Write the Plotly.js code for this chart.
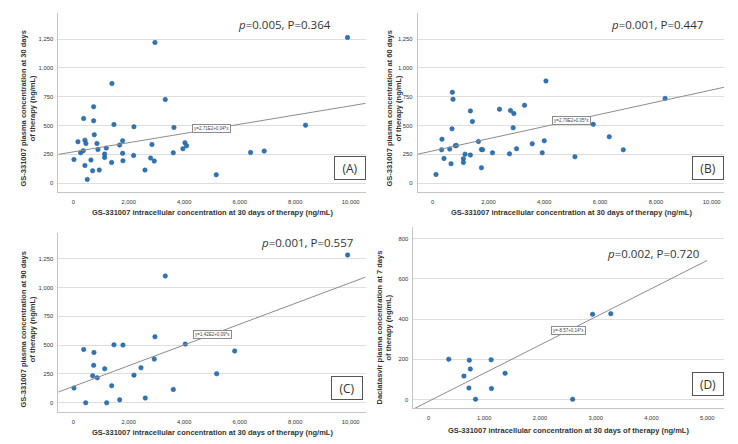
<!DOCTYPE html>
<html><head><meta charset="utf-8">
<script src="https://cdn.plot.ly/plotly-3.0.1.min.js"></script>
<style>html,body{margin:0;padding:0;background:#fff}#c{width:738px;height:444px}</style>
</head><body><div id="c"></div>
<script>
// ---- data ----
const xA = [24,168,264,373,360,420,456,420,505,637,697,733,733,757,853,889,937,1129,1129,1189,1393,1381,1465,1670,1778,1778,1790,2186,2174,2583,2787,2835,2919,2943,3315,3604,3628,3952,4024,4084,5153,6390,6883,8372,9885];
const yA = [205,359,263,561,281,373,344,153,32,200,107,663,541,420,344,292,113,252,223,304,865,179,509,330,367,258,194,489,240,113,217,336,191,1221,726,263,483,298,350,324,72,266,278,503,1265];
const xB = [120,335,323,407,611,659,707,731,695,814,850,1102,1102,1162,1353,1425,1353,1641,1749,1790,1749,2144,2395,2754,2790,2910,2886,3006,3293,3569,3928,4000,4060,5755,8329,6329,6832,5098];
const yB = [75,381,289,214,295,168,789,728,471,324,327,211,179,251,627,535,243,361,292,290,133,263,642,254,630,604,480,298,676,341,263,367,887,510,735,402,289,228];
const xC = [3316,375,746,1467,1791,2944,4037,735,1132,2919,2440,699,865,2188,25,1384,3604,447,1204,1672,2595,9889,5817,5168];
const yC = [1100,463,437,503,501,573,509,325,295,379,304,234,217,240,128,148,116,0,0,26,41,1282,449,252];
const xD = [362,731,1123,749,635,1373,724,1129,843,2585,2943,3270];
const yD = [201,196,198,152,117,131,58,55,2,2,424,427];

const panelLabels = ['(A)','(B)','(C)','(D)'];
const statTexts = ['<i>p</i>=0.005, P=0.364','<i>p</i>=0.001, P=0.447','<i>p</i>=0.001, P=0.557','<i>p</i>=0.002, P=0.720'];
const fitLabels = ['y=2,71E2+0,04*x','y=2,79E2+0,05*x','y=1,42E2+0,09*x','y=-8,57+0,14*x'];
const fitIntercept = [271, 279, 142, -8.57];
const fitSlope = [0.04, 0.053, 0.09, 0.14];
const fitXEnd = [10540, 10440, 10540, 5000];
const fitLabelX = [4990, 4965, 5000, 2514];
const yTitles = ['GS-331007 plasma concentration at 30 days<br>of therapy (ng/mL)',
                 'GS-331007 plasma concentration at 60 days<br>of therapy (ng/mL)',
                 'GS-331007 plasma concentration at 90 days<br>of therapy (ng/mL)',
                 'Daclatasvir plasma concentration at 7 days<br>of therapy (ng/mL)'];
const xTitle = 'GS-331007 intracellular concentration at 30 days of therapy (ng/mL)';
const xTicksABC = [0,2000,4000,6000,8000,10000];
const yTicksABC = [0,250,500,750,1000,1250];
const xTicksD = [0,1000,2000,3000,4000,5000];
const yTicksD = [0,200,400,600,800];

// ---- layout geometry (pixels) ----
const W = 738, H = 444;
const px = v => v / W, py = v => 1 - v / H;
const panels = [
  {xs: xA, ys: yA, xd:[58.3,365.7], yd:[12.7,191.7], xr:[-540,10540], yr:[-75,1480], xt:xTicksABC, yt:yTicksABC,
   box:[350,168], stat:[284.7,24.7], ytl:[27.5,109], xtl:[212,212]},
  {xs: xB, ys: yB, xd:[417.7,724], yd:[12.7,191.7], xr:[-535,10440], yr:[-75,1480], xt:xTicksABC, yt:yTicksABC,
   box:[708,168], stat:[657.2,25], ytl:[393.5,109], xtl:[571,212]},
  {xs: xC, ys: yC, xd:[58.3,365.7], yd:[232.7,411.7], xr:[-540,10540], yr:[-77,1475], xt:xTicksABC, yt:yTicksABC,
   box:[346.7,388], stat:[307.2,242.2], ytl:[27.5,330], xtl:[212,432]},
  {xs: xD, ys: yD, xd:[413.3,724.3], yd:[227.3,408.3], xr:[-274,5307], yr:[-43,856], xt:xTicksD, yt:yTicksD,
   box:[708,384.3], stat:[652.8,253.3], ytl:[384,327.5], xtl:[568.8,430.7]}
];

const traces = [];
const layout = {
  width: W, height: H, margin:{l:0,r:0,t:0,b:0}, showlegend:false,
  paper_bgcolor:'#fff', plot_bgcolor:'#fff',
  font:{family:'Liberation Sans, Arial, sans-serif', color:'#333'},
  annotations: [], shapes: []
};

panels.forEach((p, i) => {
  const n = i === 0 ? '' : String(i + 1);
  const xa = 'x' + n, ya = 'y' + n;
  traces.push({
    type:'scatter', mode:'markers', x:p.xs, y:p.ys, xaxis:xa, yaxis:ya,
    marker:{size:4.5, color:'#2f75b5', line:{width:0.5, color:'#225a8f'}}, hoverinfo:'skip'
  });
  const x0 = p.xr[0], x1 = fitXEnd[i];
  traces.push({
    type:'scatter', mode:'lines', x:[x0, x1],
    y:[fitIntercept[i] + fitSlope[i]*x0, fitIntercept[i] + fitSlope[i]*x1],
    xaxis:xa, yaxis:ya, line:{color:'#8c8c8c', width:1}, cliponaxis:true, hoverinfo:'skip'
  });
  layout['xaxis' + n] = {
    domain:[px(p.xd[0]), px(p.xd[1])], range:p.xr, anchor:ya,
    tickvals:p.xt, tickformat:',', showgrid:false, zeroline:false,
    showline:true, linecolor:'#c4c4c4', linewidth:1, ticks:'', ticklabelstandoff:4,
    tickfont:{size:5.8, color:'#333'}
  };
  layout['yaxis' + n] = {
    domain:[py(p.yd[1]), py(p.yd[0])], range:p.yr, anchor:xa,
    tickvals:p.yt, tickformat:',', showgrid:true, gridcolor:'#dedede', gridwidth:1, zeroline:false,
    showline:true, linecolor:'#c4c4c4', linewidth:1, ticks:'', ticklabelstandoff:3,
    tickfont:{size:5.8, color:'#333'}
  };
  layout.annotations.push({
    xref:xa, yref:ya, x:fitLabelX[i], y:fitIntercept[i] + fitSlope[i]*fitLabelX[i],
    text:fitLabels[i], showarrow:false, font:{size:4.5, color:'#444'},
    bgcolor:'#fff', bordercolor:'#8c8c8c', borderwidth:1, borderpad:1
  });
  layout.annotations.push({
    xref:'paper', yref:'paper', x:px(p.stat[0]), y:py(p.stat[1]), xanchor:'center', yanchor:'middle',
    text:statTexts[i], showarrow:false, font:{family:'Open Sans, Noto Sans, sans-serif', size:11.5, color:'#333'}
  });
  layout.annotations.push({
    xref:'paper', yref:'paper', x:px(p.box[0]), y:py(p.box[1]), xanchor:'center', yanchor:'middle',
    text:panelLabels[i], showarrow:false, width:30, height:22, borderpad:0,
    bordercolor:'#555', borderwidth:1, bgcolor:'#fff',
    font:{family:'Open Sans, Noto Sans, sans-serif', size:12, color:'#333'}
  });
  layout.annotations.push({
    xref:'paper', yref:'paper', x:px(p.ytl[0]), y:py(p.ytl[1]), xanchor:'center', yanchor:'middle',
    text:yTitles[i], textangle:-90, showarrow:false,
    font:{size:7.5, weight:'bold', color:'#333'}
  });
  layout.annotations.push({
    xref:'paper', yref:'paper', x:px(p.xtl[0]), y:py(p.xtl[1]), xanchor:'center', yanchor:'middle',
    text:xTitle, showarrow:false, font:{size:7.5, weight:'bold', color:'#333'}
  });
});

Plotly.newPlot('c', traces, layout, {staticPlot:true, displayModeBar:false});
</script></body></html>
